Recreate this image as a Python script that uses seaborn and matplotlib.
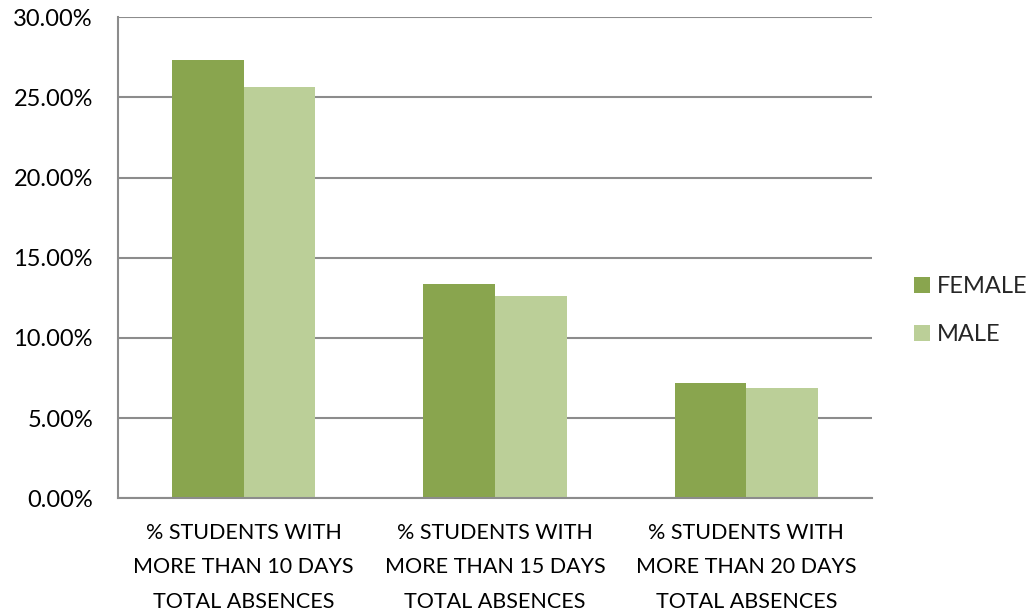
import pandas as pd
import seaborn as sns
import matplotlib.pyplot as plt
from matplotlib.ticker import PercentFormatter, FixedLocator

# --- data ---
categories = [
    "% STUDENTS WITH\nMORE THAN 10 DAYS\nTOTAL ABSENCES",
    "% STUDENTS WITH\nMORE THAN 15 DAYS\nTOTAL ABSENCES",
    "% STUDENTS WITH\nMORE THAN 20 DAYS\nTOTAL ABSENCES",
]
female = [27.35, 13.35, 7.22]
male = [25.65, 12.63, 6.90]
series = ["FEMALE", "MALE"]
colors = ["#89A54E", "#BBCF98"]

df = pd.DataFrame({
    "category": categories * 2,
    "gender": ["FEMALE"] * 3 + ["MALE"] * 3,
    "value": female + male,
})

sns.set_theme(style="white")
plt.rcParams["font.family"] = ["Lato", "DejaVu Sans"]

fig = plt.figure(figsize=(10.26, 6.1), dpi=100)
ax = fig.add_axes([0.115, 0.183, 0.735, 0.789])

sns.barplot(data=df, x="category", y="value", hue="gender", hue_order=series,
            palette=colors, width=0.57, saturation=1, linewidth=0, ax=ax, legend=True)

ax.set_ylim(0, 30)
ax.set_xlim(-0.5, 2.5)
ax.yaxis.set_major_locator(FixedLocator([0, 5, 10, 15, 20, 25, 30]))
ax.yaxis.set_major_formatter(PercentFormatter(decimals=2))
ax.grid(axis="y", color="#8C8C8C", linewidth=1.5)
ax.set_axisbelow(True)

# category boundary ticks instead of centred ticks
ax.set_xticks([0, 1, 2])
ax.set_xticklabels(categories, fontsize=15.5, linespacing=1.91, color="black")
ax.tick_params(axis="x", length=0, pad=17.5)
ax.set_xticks([-0.5, 0.5, 1.5, 2.5], minor=True)
ax.tick_params(axis="x", which="minor", length=7, width=1.5, color="#8C8C8C", direction="out")
ax.tick_params(axis="y", length=7, width=1.5, color="#8C8C8C", direction="out",
               labelsize=17, labelcolor="black", pad=11)
ax.set_xlabel("")
ax.set_ylabel("")

for side in ["top", "right"]:
    ax.spines[side].set_visible(False)
for side in ["left", "bottom"]:
    ax.spines[side].set_color("#8C8C8C")
    ax.spines[side].set_linewidth(1.5)

ax.legend(loc="center left", bbox_to_anchor=(1.027, 0.39), frameon=False,
          fontsize=17, handlelength=0.67, handleheight=0.67,
          handletextpad=0.3, labelspacing=1.12)

fig.savefig("out.png", dpi=100)
